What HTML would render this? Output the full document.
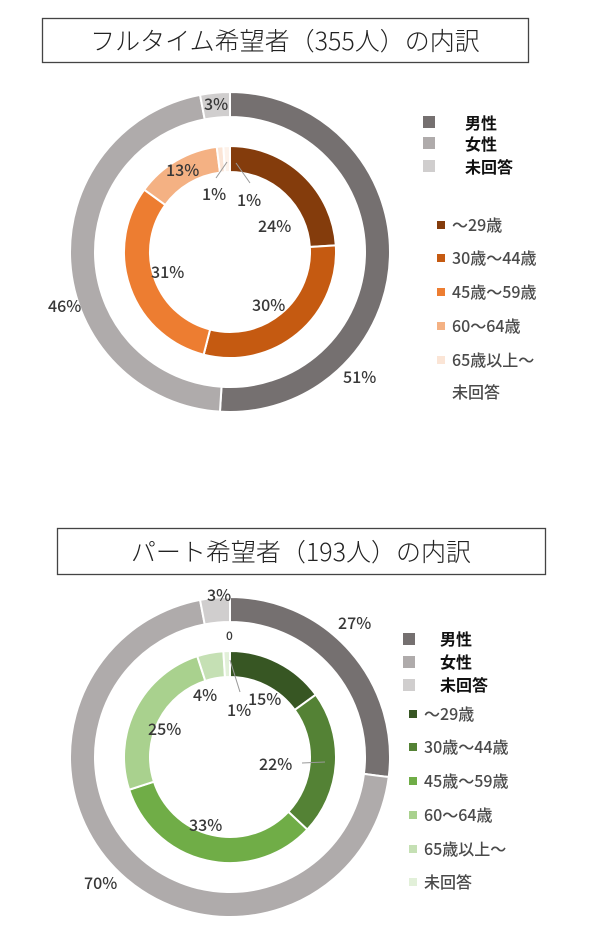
<!DOCTYPE html>
<html><head><meta charset="utf-8">
<style>
body{margin:0;background:#fff;width:600px;height:933px;overflow:hidden;font-family:"Liberation Sans","Noto Sans CJK JP",sans-serif;}
svg{position:absolute;left:0;top:0}
</style></head><body>
<svg id="s" width="600" height="933" viewBox="0 0 600 933" font-family="Liberation Sans, Noto Sans CJK JP, sans-serif">
<rect x="42.5" y="18.5" width="486" height="44" fill="#fff" stroke="#444" stroke-width="1.3"/>
<text x="285" y="50" font-size="25" text-anchor="middle" fill="#222" font-family="Noto Sans CJK JP, sans-serif" font-weight="300">フルタイム希望者（355人）の内訳</text>
<rect x="57.5" y="528.5" width="488" height="46" fill="#fff" stroke="#444" stroke-width="1.3"/>
<text x="301" y="561" font-size="25" text-anchor="middle" fill="#222" font-family="Noto Sans CJK JP, sans-serif" font-weight="300">パート希望者（193人）の内訳</text>
<g id="c1"></g><g id="c2"></g>
<g font-size="16" fill="#4a4a4a" font-family="Noto Sans CJK JP, sans-serif" font-weight="500">
<rect x="423" y="116" width="12" height="12" fill="#757070"/><text x="465" y="129" fill="#111" font-weight="bold">男性</text>
<rect x="423" y="137" width="12" height="12" fill="#afabab"/><text x="465" y="150" fill="#111" font-weight="bold">女性</text>
<rect x="423" y="160" width="12" height="12" fill="#d0cece"/><text x="465" y="173" fill="#111" font-weight="bold">未回答</text>
<rect x="437" y="221" width="8" height="8" fill="#843c0c"/><text x="452" y="231">～29歳</text>
<rect x="437" y="254" width="8" height="8" fill="#c55a11"/><text x="452" y="264">30歳～44歳</text>
<rect x="437" y="288" width="8" height="8" fill="#ed7d31"/><text x="452" y="298">45歳～59歳</text>
<rect x="437" y="322" width="8" height="8" fill="#f4b183"/><text x="452" y="332">60～64歳</text>
<rect x="437" y="356" width="8" height="8" fill="#fbe5d6"/><text x="452" y="366">65歳以上～</text>
<text x="452" y="398">未回答</text>
<rect x="403" y="633" width="12" height="12" fill="#757070"/><text x="440" y="645" fill="#111" font-weight="bold">男性</text>
<rect x="403" y="656" width="12" height="12" fill="#afabab"/><text x="440" y="668" fill="#111" font-weight="bold">女性</text>
<rect x="403" y="679" width="12" height="12" fill="#d0cece"/><text x="440" y="691" fill="#111" font-weight="bold">未回答</text>
<rect x="409" y="710" width="8" height="8" fill="#375623"/><text x="424" y="720">～29歳</text>
<rect x="409" y="743" width="8" height="8" fill="#548235"/><text x="424" y="753">30歳～44歳</text>
<rect x="409" y="777" width="8" height="8" fill="#70ad47"/><text x="424" y="787">45歳～59歳</text>
<rect x="409" y="811" width="8" height="8" fill="#a9d18e"/><text x="424" y="821">60～64歳</text>
<rect x="409" y="845" width="8" height="8" fill="#c5e0b4"/><text x="424" y="855">65歳以上～</text>
<rect x="409" y="878" width="8" height="8" fill="#e2f0d9"/><text x="424" y="888">未回答</text>
</g>
<g font-size="16" fill="#383838" font-family="Noto Sans CJK JP, sans-serif" font-weight="500">
<text x="204" y="110">3%</text><text x="343" y="383">51%</text><text x="48" y="312">46%</text>
<text x="166" y="176">13%</text><text x="202" y="200">1%</text><text x="237" y="206">1%</text>
<text x="258" y="232">24%</text><text x="252" y="311">30%</text><text x="151" y="278">31%</text>
<text x="207" y="601">3%</text><text x="338" y="629">27%</text><text x="84" y="889">70%</text>
<text x="226" y="640" font-size="12">0</text><text x="193" y="701">4%</text><text x="227" y="716">1%</text>
<text x="248" y="705">15%</text><text x="259" y="770">22%</text><text x="148" y="735">25%</text><text x="189" y="831">33%</text>
</g>
<g stroke="#999" stroke-width="1" fill="none">
<line x1="236" y1="163" x2="250" y2="183"/><line x1="227" y1="162" x2="216" y2="178"/>
<line x1="230" y1="660" x2="240" y2="692"/><line x1="302" y1="763" x2="325" y2="762"/>
</g>
</svg>
<script>
function ring(g,cx,cy,ro,ri,vals,cols){
 var el=document.getElementById(g),a=0,tot=vals.reduce((x,y)=>x+y,0),s='';
 vals.forEach(function(v,i){
  if(v<=0)return;
  var a0=a/tot*2*Math.PI,a1=(a+v)/tot*2*Math.PI;a+=v;
  function p(r,t){return [cx+r*Math.sin(t),cy-r*Math.cos(t)];}
  var L=(a1-a0)>Math.PI?1:0,P1=p(ro,a0),P2=p(ro,a1),P3=p(ri,a1),P4=p(ri,a0);
  s+='<path d="M'+P1+' A'+ro+','+ro+' 0 '+L+' 1 '+P2+' L'+P3+' A'+ri+','+ri+' 0 '+L+' 0 '+P4+'Z" fill="'+cols[i]+'" stroke="#fff" stroke-width="2"/>';
 });
 el.innerHTML+=s;
}
ring('c1',230,252,160,135,[51,46,3],['#757070','#afabab','#d0cece']);
ring('c1',230,252,106,80,[24,30,31,13,1,1],['#843c0c','#c55a11','#ed7d31','#f4b183','#fbe5d6','#fdf2ea']);
ring('c2',230,757,160,135,[27,70,3],['#757070','#afabab','#d0cece']);
ring('c2',230,757,106,80,[15,22,33,25,4,1],['#375623','#548235','#70ad47','#a9d18e','#c5e0b4','#e2f0d9']);
</script>
</body></html>
